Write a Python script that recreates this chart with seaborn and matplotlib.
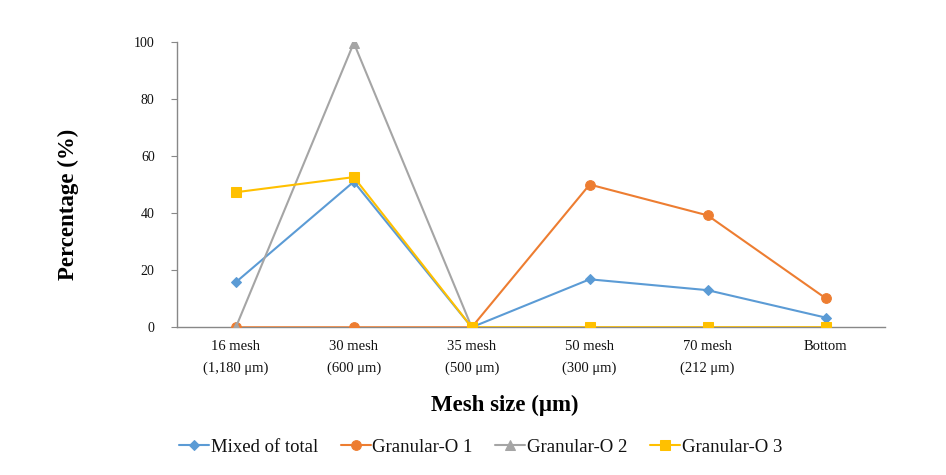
import pandas as pd
import seaborn as sns
import matplotlib.pyplot as plt

# mesh categories and series values
categories = ['16 mesh\n(1,180 \u03bcm)', '30 mesh\n(600 \u03bcm)', '35 mesh\n(500 \u03bcm)',
              '50 mesh\n(300 \u03bcm)', '70 mesh\n(212 \u03bcm)', 'Bottom']
mixed = [15.8, 51.0, 0.0, 16.8, 13.0, 3.4]
granular_1 = [0.0, 0.0, 0.0, 50.0, 39.2, 10.2]
granular_2 = [0.0, 99.6, 0.0, 0.0, 0.0, 0.0]
granular_3 = [47.3, 52.6, 0.0, 0.0, 0.0, 0.0]

series = {
    'Mixed of total': mixed,
    'Granular-O 1': granular_1,
    'Granular-O 2': granular_2,
    'Granular-O 3': granular_3,
}
colors = ['#5B9BD5', '#ED7D31', '#A5A5A5', '#FFC000']
markers = ['D', 'o', '^', 's']
msizes = [5.5, 7, 7, 7]

rows = []
for name, vals in series.items():
    for c, v in zip(categories, vals):
        rows.append({'mesh': c, 'pct': v, 'series': name})
df = pd.DataFrame(rows)

sns.set_style('white')
plt.rcParams['font.family'] = ['Liberation Serif', 'DejaVu Serif']
plt.rcParams['text.color'] = '#111111'
plt.rcParams['axes.labelcolor'] = '#000000'
plt.rcParams['xtick.color'] = '#111111'
plt.rcParams['ytick.color'] = '#111111'

fig = plt.figure(figsize=(9.46, 4.75), dpi=100)
ax = fig.add_axes([0.187, 0.311, 0.748, 0.601])

for (name, _), col, mk, ms in zip(series.items(), colors, markers, msizes):
    sub = df[df['series'] == name]
    sns.lineplot(data=sub, x='mesh', y='pct', ax=ax, color=col, marker=mk,
                 markersize=ms, markeredgecolor=col, linewidth=1.5,
                 sort=False, label=name, zorder=3)

ax.set_xlim(-0.5, 5.5)
ax.set_ylim(0, 100)
ax.set_yticks([0, 20, 40, 60, 80, 100])
ax.tick_params(axis='y', left=True, length=4, width=0.8, color='#888888',
               labelsize=10, pad=12)
ax.tick_params(axis='x', bottom=False, labelsize=10.5, pad=6)
for lab in ax.get_xticklabels():
    lab.set_linespacing(1.8)

for s in ['top', 'right']:
    ax.spines[s].set_visible(False)
for s in ['left', 'bottom']:
    ax.spines[s].set_color('#888888')
    ax.spines[s].set_linewidth(1.0)

ax.set_xlabel('Mesh size (\u03bcm)', fontsize=16.5, fontweight='bold')
ax.set_ylabel('Percentage (%)', fontsize=16.5, fontweight='bold')
ax.xaxis.set_label_coords(0.463, -0.238)
ax.yaxis.set_label_coords(-0.138, 0.43)

ax.get_legend().remove()
handles, labels = ax.get_legend_handles_labels()
fig.legend(handles, labels, loc='center', bbox_to_anchor=(0.508, 0.058), ncol=4,
           frameon=False, fontsize=13.5, handlelength=1.6, columnspacing=1.2,
           handletextpad=0.1)

fig.savefig('out.png', dpi=100)
